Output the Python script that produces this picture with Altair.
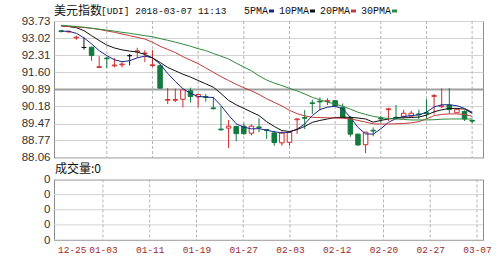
import altair as alt
import pandas as pd

# ---------------- data ----------------
opens  = [93.32, 93.28, 93.03, 92.63, 92.64, 91.80, 92.19, 91.87, 91.91, 92.29,
          92.45, 92.38, 91.88, 91.87, 90.44, 90.44, 90.48, 90.83, 90.58, 90.59,
          90.12, 89.24, 89.28, 89.35, 89.36, 89.07, 89.33, 89.22, 89.08, 88.67,
          88.69, 89.63, 89.72, 90.33, 90.40, 90.39, 90.42, 90.14, 89.72, 89.03,
          88.59, 89.19, 89.69, 90.05, 89.73, 89.77, 89.78, 89.87, 89.92, 90.60,
          90.17, 90.24, 89.92, 89.97, 89.60]
highs  = [93.36, 93.33, 93.12, 93.05, 92.66, 92.27, 92.22, 92.19, 92.02, 92.36,
          92.62, 92.52, 92.52, 91.92, 90.95, 90.92, 90.88, 90.96, 90.70, 90.70,
          90.58, 90.18, 89.62, 89.38, 89.48, 89.44, 89.69, 89.24, 89.17, 89.15,
          89.12, 89.68, 90.03, 90.46, 90.56, 90.52, 90.44, 90.30, 89.78, 89.05,
          89.13, 89.31, 89.79, 90.13, 90.24, 90.04, 90.00, 90.05, 90.48, 90.70,
          90.93, 90.94, 90.08, 90.02, 89.64]
lows   = [93.25, 93.24, 92.95, 92.54, 92.08, 91.78, 91.78, 91.80, 91.80, 91.89,
          92.21, 92.02, 91.82, 90.92, 90.28, 90.36, 90.14, 90.34, 90.15, 90.38,
          90.05, 89.18, 88.45, 88.73, 89.00, 88.98, 89.11, 88.83, 88.55, 88.55,
          88.55, 89.04, 89.24, 89.87, 90.02, 90.24, 90.18, 89.70, 88.92, 88.55,
          88.24, 88.94, 89.51, 89.58, 89.64, 89.68, 89.74, 89.66, 89.66, 89.85,
          90.12, 89.88, 89.90, 89.58, 89.48]
closes = [93.30, 93.30, 93.06, 92.63, 92.30, 91.83, 92.16, 91.90, 91.94, 92.29,
          92.49, 92.40, 91.91, 90.94, 90.47, 90.47, 90.87, 90.59, 90.68, 90.56,
          90.09, 89.21, 89.36, 89.05, 89.05, 89.36, 89.30, 89.19, 88.68, 89.08,
          89.10, 89.66, 89.69, 90.30, 90.37, 90.42, 90.20, 89.72, 89.03, 88.58,
          89.11, 89.16, 89.66, 90.08, 89.70, 89.90, 89.90, 89.84, 89.89, 90.63,
          90.20, 90.05, 90.06, 89.66, 89.57]

ma5  = [93.31, 93.30, 93.22, 93.03, 92.78, 92.50, 92.29, 92.12, 92.04, 92.08,
        92.20, 92.27, 92.20, 91.94, 91.55, 91.22, 90.92, 90.72, 90.60, 90.57,
        90.55, 90.22, 89.82, 89.46, 89.32, 89.25, 89.26, 89.19, 89.13, 89.08,
        89.11, 89.24, 89.45, 89.80, 90.05, 90.15, 90.19, 90.08, 89.73, 89.31,
        89.04, 89.03, 89.25, 89.52, 89.68, 89.76, 89.80, 89.83, 89.94, 90.16,
        90.25, 90.25, 90.21, 90.10, 89.94]
ma10 = [93.53, 93.50, 93.45, 93.33, 93.12, 92.92, 92.73, 92.61, 92.53, 92.48,
        92.44, 92.34, 92.20, 92.01, 91.80, 91.66, 91.52, 91.40, 91.26, 91.12,
        90.98, 90.72, 90.43, 90.25, 90.10, 89.95, 89.80, 89.55, 89.35, 89.18,
        89.14, 89.22, 89.35, 89.52, 89.60, 89.66, 89.72, 89.73, 89.73, 89.70,
        89.66, 89.53, 89.60, 89.66, 89.70, 89.71, 89.72, 89.74, 89.82, 89.96,
        90.04, 90.10, 90.10, 90.07, 89.90]
ma20 = [93.52, 93.50, 93.48, 93.46, 93.43, 93.38, 93.32, 93.26, 93.19, 93.12,
        93.05, 92.98, 92.85, 92.68, 92.55, 92.42, 92.25, 92.10, 91.96, 91.78,
        91.60, 91.42, 91.26, 91.10, 90.96, 90.83, 90.68, 90.50, 90.35, 90.20,
        90.02, 89.88, 89.79, 89.73, 89.72, 89.71, 89.70, 89.69, 89.66, 89.60,
        89.53, 89.46, 89.45, 89.45, 89.46, 89.47, 89.50, 89.55, 89.66, 89.80,
        89.85, 89.87, 89.87, 89.85, 89.77]
ma30 = [93.55, 93.53, 93.50, 93.47, 93.43, 93.39, 93.35, 93.31, 93.26, 93.22,
        93.17, 93.12, 93.08, 93.00, 92.93, 92.85, 92.77, 92.68, 92.58, 92.50,
        92.38, 92.27, 92.15, 91.98, 91.82, 91.66, 91.45, 91.28, 91.15, 91.05,
        90.93, 90.83, 90.70, 90.56, 90.46, 90.36, 90.28, 90.19, 90.07, 89.94,
        89.85, 89.77, 89.72, 89.68, 89.66, 89.64, 89.62, 89.62, 89.62, 89.63,
        89.65, 89.66, 89.66, 89.66, 89.66]

tick_idx    = [2, 6, 12, 18, 24, 30, 36, 42, 48, 54]
tick_labels = ["12-25", "01-03", "01-11", "01-19", "01-27",
               "02-03", "02-12", "02-20", "02-27", "03-07"]
grid_idx    = tick_idx[1:]
price_ticks = [88.06, 88.77, 89.47, 90.18, 90.89, 91.60, 92.31, 93.02, 93.73]
vol_ticks   = [0, 1, 2, 3, 4]
ma_names    = ["5PMA", "10PMA", "20PMA", "30PMA"]

title_cn  = "美元指数"
title_txt = "[UDI] 2018-03-07 11:13"
vol_title = "成交量:0"

# ---------------- styles ----------------
RED, GREEN, BLACK = "#d22a2a", "#127a3e", "#111111"
MA_COLORS = ["#1c248c", "#111111", "#c43a3a", "#2e8a3c"]
GRID = "#d2d2d2"
VGRID = "#b4b4b4"
CJK = "Noto Sans CJK SC"
MONO = "Liberation Mono"
SANS = "Liberation Sans"

W, H_TOP, H_BOT = 429, 136.5, 60.5
EXT = 48

n = len(opens)
df = pd.DataFrame({"i": list(range(n)), "open": opens, "high": highs,
                   "low": lows, "close": closes})
df["dir"] = ["up" if c > o else ("down" if c < o else "flat")
             for o, c in zip(opens, closes)]
DIRS = ["up", "down", "flat"]

xs = alt.Scale(domain=[-0.28, 54.77], nice=False, zero=False)
ys = alt.Scale(domain=[88.06, 93.73], nice=False, zero=False)

price_axis = alt.Axis(
    values=price_ticks, format=".2f", grid=True,
    gridColor=alt.condition("datum.value == 90.89", alt.value("#a0a0a0"), alt.value(GRID)),
    gridWidth=alt.condition("datum.value == 90.89", alt.value(2), alt.value(1)),
    ticks=False, tickSize=0, domain=False, labelPadding=4,
    labelFont=SANS, labelFontSize=11.5, labelColor="#333333",
    minExtent=EXT, maxExtent=EXT)

X_TOP = alt.X("i:Q", scale=xs, axis=None, title=None)


def ypr(field):
    return alt.Y(field, scale=ys, axis=price_axis, title=None)


one = pd.DataFrame({"k": [0]})

vgrid_top = alt.Chart(pd.DataFrame({"i": grid_idx})).mark_rule(
    color=VGRID, strokeDash=[3, 2], strokeWidth=1).encode(x=X_TOP)

wick = alt.Chart(df).mark_rule(strokeWidth=1).encode(
    x=X_TOP, y=ypr("low:Q"), y2="high:Q",
    color=alt.Color("dir:N", scale=alt.Scale(domain=DIRS, range=[RED, GREEN, BLACK]),
                    legend=None))

body = alt.Chart(df).mark_bar(size=4.5, strokeWidth=1).encode(
    x=X_TOP, y=ypr("open:Q"), y2="close:Q",
    fill=alt.Fill("dir:N", scale=alt.Scale(domain=DIRS, range=["#ffffff", GREEN, BLACK]),
                  legend=None),
    stroke=alt.Stroke("dir:N", scale=alt.Scale(domain=DIRS, range=[RED, GREEN, BLACK]),
                      legend=None))

ma_layers = []
for vals, col in zip([ma5, ma10, ma20, ma30], MA_COLORS):
    ma_layers.append(
        alt.Chart(pd.DataFrame({"i": list(range(n)), "v": vals})).mark_line(
            color=col, strokeWidth=1).encode(x=X_TOP, y=ypr("v:Q")))

texts = [
    alt.Chart(one).mark_text(text=title_cn, font=CJK, fontSize=12, align="left",
                             baseline="alphabetic", color="#111111").encode(
        x=alt.value(0), y=alt.value(-6)),
    alt.Chart(one).mark_text(text=title_txt, font=MONO, fontSize=9.5, align="left",
                             baseline="alphabetic", color="#111111").encode(
        x=alt.value(47), y=alt.value(-7)),
]
lx = 190
for name, col in zip(ma_names, MA_COLORS):
    texts.append(alt.Chart(one).mark_text(text=name, font=MONO, fontSize=10, align="left",
                                          baseline="alphabetic", color="#111111").encode(
        x=alt.value(lx), y=alt.value(-7)))
    sq = lx + 6 * len(name) + 1
    texts.append(alt.Chart(one).mark_rect(color=col).encode(
        x=alt.value(sq), x2=alt.value(sq + 5), y=alt.value(-11.5), y2=alt.value(-8.5)))
    lx = sq + 10

top = alt.layer(vgrid_top, wick, body, *ma_layers, *texts).properties(width=W, height=H_TOP)

# ---------------- bottom (volume) panel ----------------
label_expr = "[" + ",".join("'%s'" % t for t in tick_labels) + "][indexof([" + \
    ",".join(str(v) for v in tick_idx) + "], datum.value)]"

X_BOT = alt.X("i:Q", scale=xs, title=None,
              axis=alt.Axis(values=tick_idx, labelExpr=label_expr, grid=False, ticks=False,
                            tickSize=0, domain=False, labelPadding=4, labelFlush=False,
                            labelOverlap=False, labelFont=MONO, labelFontSize=9.5,
                            labelColor="#9a2c2c"))

vgrid_bot = alt.Chart(pd.DataFrame({"i": grid_idx})).mark_rule(
    color=VGRID, strokeDash=[3, 2], strokeWidth=1).encode(x=X_BOT)

hgrid_bot = alt.Chart(pd.DataFrame({"v": vol_ticks})).mark_rule(
    color=GRID, strokeWidth=1).encode(
    y=alt.Y("v:Q", scale=alt.Scale(domain=[0, 4], nice=False, zero=False), title=None,
            axis=alt.Axis(values=vol_ticks, labelExpr="'0'", grid=False, ticks=False,
                          tickSize=0, domain=False, labelPadding=4, labelFont=SANS,
                          labelFontSize=11.5, labelColor="#333333",
                          minExtent=EXT, maxExtent=EXT)))

vol_text = alt.Chart(one).mark_text(text=vol_title, font=CJK, fontSize=12, align="left",
                                    baseline="alphabetic", color="#111111").encode(
    x=alt.value(1), y=alt.value(-6.5))

bottom = alt.layer(hgrid_bot, vgrid_bot, vol_text).properties(width=W, height=H_BOT)

chart = alt.vconcat(top, bottom, spacing=-1.5).configure_view(
    stroke="#8c8c8c", strokeWidth=1).properties(
    padding={"left": 5, "top": 4, "right": 5, "bottom": 0}, background="white")

chart.save("out.html", embed_options={"renderer": "svg", "actions": False})
